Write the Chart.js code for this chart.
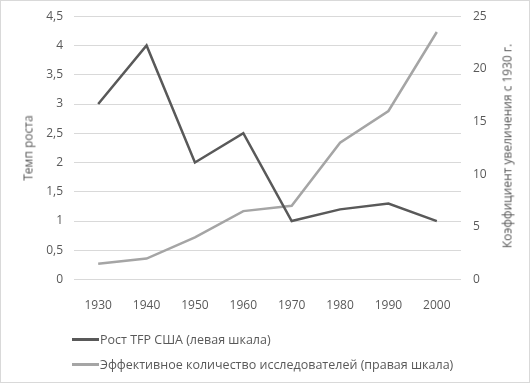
<!DOCTYPE html>
<html>
<head>
<meta charset="utf-8">
<script src="https://cdn.jsdelivr.net/npm/chart.js@4"></script>
<style>
    html, body { margin: 0; padding: 0; background: #fff; }
    #frame { position: relative; width: 528px; height: 381px; border: 1px solid #d9d9d9; overflow: hidden; font-family: "Open Sans", sans-serif; color: #595959; }
    #wrap { position: absolute; left: 0; top: -4px; width: 528px; height: 335px; }
    #legenda { position: absolute; left: 71px; top: 326px; font-size: 12.5px; }
    .item { display: flex; align-items: center; height: 25px; }
    .traco { width: 27px; height: 2.5px; margin-right: 1px; }
    .titulo { position: absolute; font-size: 12px; white-space: nowrap; transform: translate(-50%, -50%) rotate(-90deg); }
</style>
</head>
<body>
<div id="frame">
    <div id="wrap"><canvas id="graficoTfp"></canvas></div>
    <div id="tituloEsq" class="titulo" style="left:27px; top:147px;"></div>
    <div id="tituloDir" class="titulo" style="left:506px; top:145px;"></div>
    <div id="legenda"></div>
</div>
<script>
// DADOS --------------------------
const anos = ["1930", "1940", "1950", "1960", "1970", "1980", "1990", "2000"];
const crescimentoTfp = [3.0, 4.0, 2.0, 2.5, 1.0, 1.2, 1.3, 1.0];
const pesquisadores = [1.5, 2.0, 4.0, 6.5, 7.0, 13.0, 16.0, 23.5];
const nomesSeries = ["Рост TFP США (левая шкала)", "Эффективное количество исследователей (правая шкала)"];
const tituloEsquerda = "Темп роста";
const tituloDireita = "Коэффициент увеличения с 1930 г.";

const COR_ESCURA = "#595959";
const COR_CLARA = "#a5a5a5";
const COR_TEXTO = "#595959";
const FONTE = { family: "Open Sans", size: 12 };

const dados = {
    labels: anos,
    datasets: [
        { label: nomesSeries[0], data: crescimentoTfp, yAxisID: "y", borderColor: COR_ESCURA, borderWidth: 2.5, pointRadius: 0, tension: 0 },
        { label: nomesSeries[1], data: pesquisadores, yAxisID: "y1", borderColor: COR_CLARA, borderWidth: 2.5, pointRadius: 0, tension: 0 },
    ]
};

const opcoes = {
    responsive: true,
    maintainAspectRatio: false,
    animation: false,
    layout: { padding: { top: 0, bottom: 0, left: 0, right: 0 } },
    plugins: { legend: { display: false }, tooltip: { enabled: false } },
    scales: {
        x: {
            offset: true,
            grid: { display: false, drawTicks: false },
            border: { display: false },
            ticks: { font: FONTE, color: COR_TEXTO, padding: 19, maxRotation: 0 },
        },
        y: {
            position: "left",
            min: 0, max: 4.5,
            grid: { color: "#d9d9d9", drawTicks: false, lineWidth: 1 },
            border: { display: false },
            ticks: { stepSize: 0.5, font: FONTE, color: COR_TEXTO, padding: 11, callback: (v) => String(v).replace(".", ",") },
            afterFit: (escala) => { escala.width = 73; },
        },
        y1: {
            position: "right",
            min: 0, max: 25,
            grid: { display: false, drawTicks: false },
            border: { display: false },
            ticks: { stepSize: 5, font: FONTE, color: COR_TEXTO, padding: 12 },
            afterFit: (escala) => { escala.width = 68; },
        },
    },
};

document.addEventListener("DOMContentLoaded", () => {
    const ctx = document.getElementById("graficoTfp").getContext("2d");
    const meuGrafico = new Chart(ctx, { type: "line", data: dados, options: opcoes });

    document.getElementById("tituloEsq").textContent = tituloEsquerda;
    document.getElementById("tituloDir").textContent = tituloDireita;

    const legenda = document.getElementById("legenda");
    meuGrafico.data.datasets.forEach((ds) => {
        const item = document.createElement("div");
        item.className = "item";
        item.innerHTML = `<span class="traco" style="background:${ds.borderColor}"></span><span>${ds.label}</span>`;
        legenda.appendChild(item);
    });
});
</script>
</body>
</html>
